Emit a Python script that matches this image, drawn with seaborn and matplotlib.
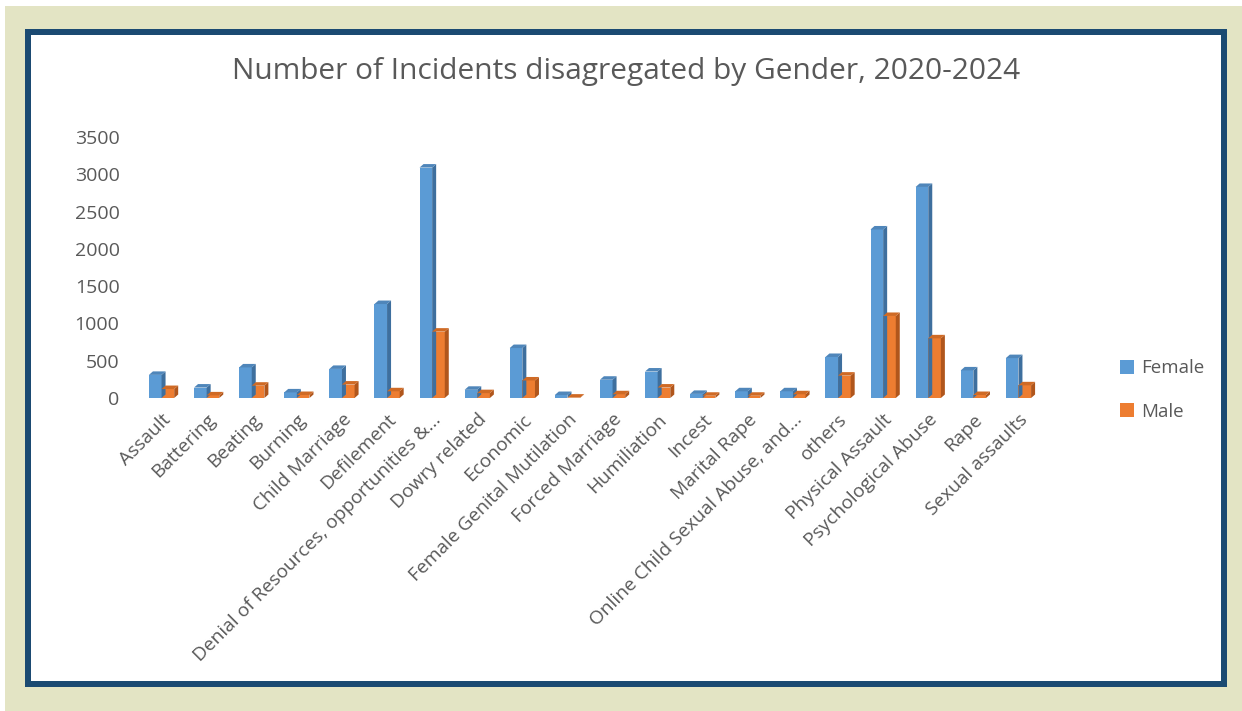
import matplotlib
matplotlib.use("Agg")
import matplotlib.pyplot as plt
import seaborn as sns
import pandas as pd
import numpy as np
from matplotlib.patches import Rectangle, Polygon

categories = ["Assault", "Battering", "Beating", "Burning", "Child Marriage", "Defilement",
              "Denial of Resources, opportunities &...", "Dowry related", "Economic",
              "Female Genital Mutilation", "Forced Marriage", "Humiliation", "Incest",
              "Marital Rape", "Online Child Sexual Abuse, and...", "others", "Physical Assault",
              "Psychological Abuse", "Rape", "Sexual assaults"]
female = [310, 140, 410, 75, 390, 1260, 3090, 110, 670, 40, 245, 355, 55, 90, 90, 550, 2260, 2830, 370, 535]
male = [120, 35, 165, 40, 180, 90, 890, 65, 235, 5, 50, 140, 30, 30, 50, 300, 1100, 800, 40, 170]
series = ["Female", "Male"]
colors = {"Female": "#5B9BD5", "Male": "#ED7D31"}
side_colors = {"Female": "#3E6F9E", "Male": "#B0561C"}
top_colors = {"Female": "#4F86BA", "Male": "#CF6A25"}

df = pd.DataFrame({
    "Category": categories * 2,
    "Count": female + male,
    "Gender": ["Female"] * len(categories) + ["Male"] * len(categories),
})

sns.set_theme(style="white")
plt.rcParams["font.family"] = ["Open Sans", "DejaVu Sans"]
text_color = "#595959"

fig = plt.figure(figsize=(12.42, 7.11), dpi=100)
fig.patch.set_facecolor("white")

# outer beige frame and dark-blue border
fig.add_artist(Rectangle((5 / 1242, 0), 1 - 5 / 1242, 1 - 6 / 711, transform=fig.transFigure,
                         facecolor="#E3E4C4", edgecolor="none", zorder=-3))
fig.add_artist(Rectangle((25 / 1242, 1 - 687 / 711), (1227 - 25) / 1242, (687 - 29) / 711,
                         transform=fig.transFigure, facecolor="#1B4A72", edgecolor="none", zorder=-2))
fig.add_artist(Rectangle((31 / 1242, 1 - 681 / 711), (1221 - 31) / 1242, (681 - 35) / 711,
                         transform=fig.transFigure, facecolor="white", edgecolor="none", zorder=-1))

ax = fig.add_axes([139 / 1242, 1 - 398 / 711, 902 / 1242, 261 / 711])
ax.set_facecolor("none")
sns.barplot(data=df, x="Category", y="Count", hue="Gender", hue_order=series,
            palette=colors, width=0.56, gap=0, ax=ax, saturation=1, legend=True,
            edgecolor="none", linewidth=0)

ax.set_xlim(-0.5, len(categories) - 0.5)
ax.set_ylim(0, 3500)
ax.set_yticks(range(0, 3501, 500))
for s in ax.spines.values():
    s.set_visible(False)
ax.set_xlabel("")
ax.set_ylabel("")
ax.tick_params(axis="y", length=0, pad=14, labelsize=14, labelcolor=text_color)
ax.tick_params(axis="x", length=0, pad=9, labelsize=13.8, labelcolor=text_color)
for lab in ax.get_xticklabels():
    lab.set_rotation(45)
    lab.set_ha("right")
    lab.set_rotation_mode("anchor")

# pseudo 3D depth on each bar (derived from the bars seaborn drew)
fig.canvas.draw()
inv = ax.transData.inverted()
p0 = inv.transform((0, 0))
p1 = inv.transform((4, 3.5))
ddx, ddy = p1[0] - p0[0], p1[1] - p0[1]
for container, name in zip(ax.containers, series):
    for bar in container:
        x0 = bar.get_x()
        w = bar.get_width()
        h = bar.get_height()
        x1 = x0 + w
        ax.add_patch(Polygon([(x1, 0), (x1, h), (x1 + ddx, h + ddy), (x1 + ddx, ddy)],
                             closed=True, facecolor=side_colors[name], edgecolor="none",
                             clip_on=False, zorder=bar.get_zorder()))
        ax.add_patch(Polygon([(x0, h), (x1, h), (x1 + ddx, h + ddy), (x0 + ddx, h + ddy)],
                             closed=True, facecolor=top_colors[name], edgecolor="none",
                             clip_on=False, zorder=bar.get_zorder()))

leg = ax.legend(loc="center left", frameon=False, fontsize=13.5, labelspacing=1.35,
                handlelength=0.75, handleheight=0.75, handletextpad=0.4, borderaxespad=0)
for t in leg.get_texts():
    t.set_color(text_color)
leg.set_bbox_to_anchor(((1112 - 139) / 902, (398 - 390) / 261), transform=ax.transAxes)

fig.text(626 / 1242, 1 - 72 / 711, "Number of Incidents disagregated by Gender, 2020-2024",
         ha="center", va="center", fontsize=21.5, color=text_color)

fig.savefig("out.png", dpi=100, facecolor=fig.get_facecolor())
